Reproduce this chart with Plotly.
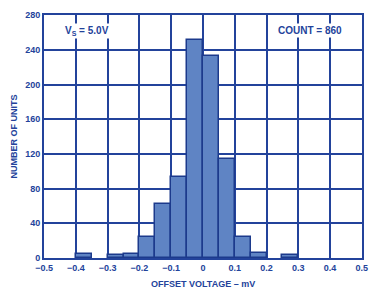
import plotly.graph_objects as go

bin_centers = [-0.375, -0.275, -0.225, -0.175, -0.125, -0.075, -0.025, 0.025, 0.075, 0.125, 0.175, 0.275]
counts = [5, 3, 5, 24, 62, 93, 251, 233, 114, 24, 6, 4]
x_ticks = [-0.5, -0.4, -0.3, -0.2, -0.1, 0, 0.1, 0.2, 0.3, 0.4, 0.5]
x_tick_labels = ["\u22120.5", "\u22120.4", "\u22120.3", "\u22120.2", "\u22120.1", "0", "0.1", "0.2", "0.3", "0.4", "0.5"]
y_ticks = [0, 40, 80, 120, 160, 200, 240, 280]

BLUE = "#23439b"
tfont = dict(family="Liberation Sans", size=9, color=BLUE, weight="bold")
afont = dict(family="Liberation Sans", size=10, color=BLUE, weight="bold")

fig = go.Figure()
fig.add_trace(go.Bar(
    x=bin_centers, y=counts, width=0.05,
    marker=dict(color="#5f84c4", line=dict(color="#1c3a8c", width=1.5)),
))

fig.update_layout(
    width=378, height=291,
    margin=dict(l=44, r=14, t=10, b=33),
    paper_bgcolor="white", plot_bgcolor="white",
    showlegend=False,
    font=tfont,
    bargap=0,
    xaxis=dict(
        range=[-0.5005, 0.5005], tickvals=x_ticks, ticktext=x_tick_labels,
        showgrid=True, gridcolor=BLUE, gridwidth=1.5,
        showline=True, linecolor=BLUE, linewidth=2, mirror=True,
        zeroline=False, ticks="", tickfont=tfont,
    ),
    yaxis=dict(
        range=[0, 280.3], tickvals=y_ticks,
        showgrid=True, gridcolor=BLUE, gridwidth=1.5,
        showline=True, linecolor=BLUE, linewidth=2, mirror=True,
        zeroline=False, ticks="", tickfont=tfont,
        title=dict(text="NUMBER OF UNITS", font=tfont, standoff=6),
    ),
    annotations=[
        dict(x=-0.44, y=262, xref="x", yref="y", text="V<sub>S</sub> = 5.0V",
             showarrow=False, xanchor="left", yanchor="middle", bgcolor="white",
             font=afont),
        dict(x=0.445, y=262, xref="x", yref="y", text="COUNT = 860",
             showarrow=False, xanchor="right", yanchor="middle", bgcolor="white",
             font=afont),
        dict(x=0.5, y=-0.105, xref="paper", yref="paper", text="OFFSET VOLTAGE \u2013 mV",
             showarrow=False, xanchor="center", yanchor="middle", font=tfont),
    ],
)

fig.write_html("out.html", config={"displayModeBar": False},
               post_script="document.body.style.margin='0';document.body.style.overflow='hidden';")
